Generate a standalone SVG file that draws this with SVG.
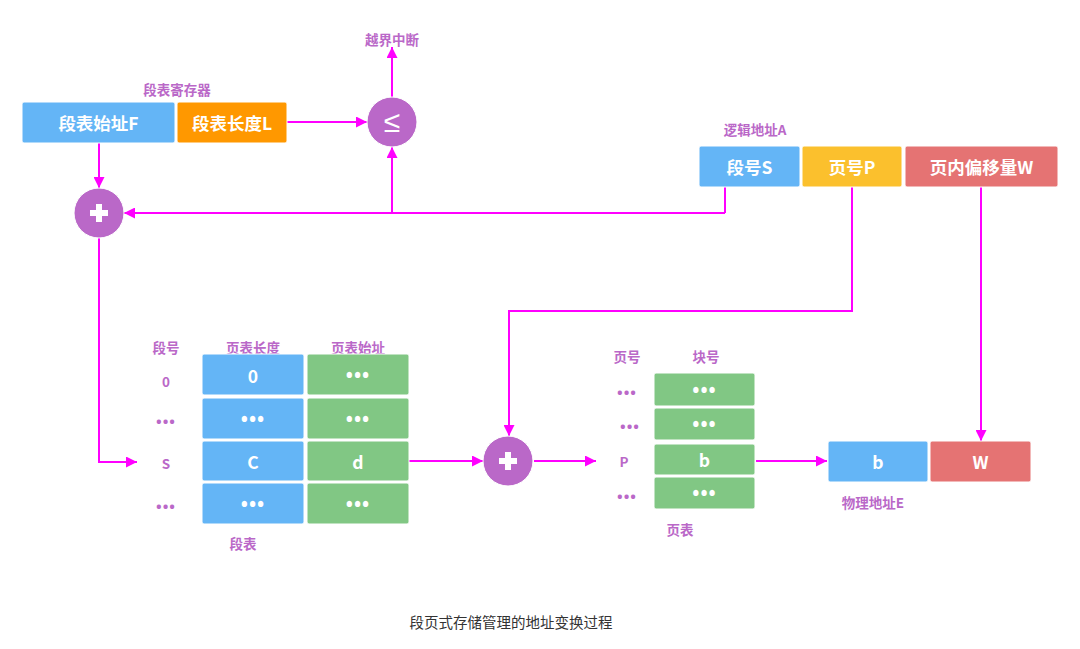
<svg xmlns="http://www.w3.org/2000/svg" width="1080" height="649" viewBox="0 0 1080 649">
<defs>
<style>
.bx{stroke:#fff;stroke-width:1;}
.blue{fill:#64B5F6}.orange{fill:#FF9800}.yellow{fill:#FBC02D}.red{fill:#E57373}.green{fill:#81C784}
.bt{font-family:"Noto Sans CJK SC","Noto Sans",sans-serif;font-weight:bold;font-size:17.5px;fill:#fff;text-anchor:middle;dominant-baseline:central}
.lb{font-family:"Noto Sans CJK SC","Noto Sans",sans-serif;font-weight:bold;font-size:13.5px;fill:#BA68C8;text-anchor:middle;dominant-baseline:central}
.ld{font-family:"Noto Sans",sans-serif;font-weight:bold;font-size:15px;letter-spacing:1px;fill:#BA68C8;text-anchor:middle;dominant-baseline:central}
.dots{font-family:"Noto Sans",sans-serif;font-weight:bold;font-size:19px;letter-spacing:1px;fill:#fff;text-anchor:middle;dominant-baseline:central}
.circ{fill:#BA68C8;stroke:#fff;stroke-width:1}
.ln{fill:none;stroke:#FF00FF;stroke-width:2;marker-end:url(#ah)}
.ln0{fill:none;stroke:#FF00FF;stroke-width:2}
</style>
<marker id="ah" viewBox="0 0 10 10" refX="10" refY="5" markerWidth="6" markerHeight="5.5" orient="auto" markerUnits="strokeWidth">
<path d="M0,0 L10,5 L0,10 z" fill="#FF00FF"/>
</marker>
<g id="plus"><rect x="-9" y="-3" width="18" height="6" fill="#fff"/><rect x="-3" y="-9" width="6" height="18" fill="#fff"/></g>
</defs>
<rect width="1080" height="649" fill="#fff"/>

<g id="connectors">
<path class="ln" d="M287,122 L367,122"/>
<path class="ln" d="M392,97 L392,47"/>
<path class="ln" d="M99,143 L99,188"/>
<path class="ln0" d="M725,187 L725,213"/>
<path class="ln" d="M725,213 L124,213"/>
<path class="ln" d="M392,213 L392,147"/>
<path class="ln" d="M99,238 L99,462 L137,462"/>
<path class="ln" d="M852,187 L852,311 L509,311 L509,436"/>
<path class="ln" d="M981,187 L981,441"/>
<path class="ln" d="M409,461 L483,461"/>
<path class="ln" d="M534,461 L596,461"/>
<path class="ln" d="M756,461 L827,461"/>
</g>

<g id="seg-register">
<text class="lb" x="177" y="89">段表寄存器</text>
<rect class="bx blue" x="22" y="102" width="153" height="41" rx="2"/>
<text class="bt" x="98.5" y="122.5">段表始址F</text>
<rect class="bx orange" x="177" y="102" width="110" height="41" rx="2"/>
<text class="bt" x="232" y="122.5">段表长度L</text>
</g>

<g id="compare">
<circle class="circ" cx="392" cy="122" r="25"/>
<text x="392" y="121" font-family="DejaVu Sans,sans-serif" font-size="30" font-weight="200" fill="#fff" text-anchor="middle" dominant-baseline="central">≤</text>
<text class="lb" x="392" y="39">越界中断</text>
</g>

<g id="add1">
<circle class="circ" cx="99" cy="213" r="25"/>
<use href="#plus" x="99" y="213"/>
</g>

<g id="logical-address">
<text class="lb" x="755" y="129">逻辑地址A</text>
<rect class="bx blue" x="699" y="146" width="101" height="41" rx="2"/>
<text class="bt" x="749.5" y="166.5">段号S</text>
<rect class="bx yellow" x="802" y="146" width="100" height="41" rx="2"/>
<text class="bt" x="852" y="166.5">页号P</text>
<rect class="bx red" x="905" y="146" width="153" height="41" rx="2"/>
<text class="bt" x="981.5" y="166.5">页内偏移量W</text>
</g>

<g id="seg-table">
<text class="lb" x="166" y="347">段号</text>
<text class="lb" x="253" y="347">页表长度</text>
<text class="lb" x="358" y="347">页表始址</text>
<text class="lb" x="166" y="381">0</text>
<text class="ld" x="166" y="421">•••</text>
<text class="lb" x="166" y="463">S</text>
<text class="ld" x="166" y="506">•••</text>
<rect class="bx blue" x="202" y="354" width="102" height="41" rx="2"/>
<rect class="bx green" x="307" y="354" width="102" height="41" rx="2"/>
<rect class="bx blue" x="202" y="398" width="102" height="41" rx="2"/>
<rect class="bx green" x="307" y="398" width="102" height="41" rx="2"/>
<rect class="bx blue" x="202" y="441" width="102" height="40" rx="2"/>
<rect class="bx green" x="307" y="441" width="102" height="40" rx="2"/>
<rect class="bx blue" x="202" y="483" width="102" height="41" rx="2"/>
<rect class="bx green" x="307" y="483" width="102" height="41" rx="2"/>
<text class="bt" x="253" y="375">0</text>
<text class="dots" x="358" y="375">•••</text>
<text class="dots" x="253" y="419">•••</text>
<text class="dots" x="358" y="419">•••</text>
<text class="bt" x="253" y="461">C</text>
<text class="bt" x="358" y="461">d</text>
<text class="dots" x="253" y="504">•••</text>
<text class="dots" x="358" y="504">•••</text>
<text class="lb" x="243" y="543">段表</text>
</g>

<g id="add2">
<circle class="circ" cx="508" cy="461" r="25"/>
<use href="#plus" x="508" y="461"/>
</g>

<g id="page-table">
<text class="lb" x="627" y="356">页号</text>
<text class="lb" x="706" y="356">块号</text>
<text class="ld" x="627" y="392">•••</text>
<text class="ld" x="630" y="426">•••</text>
<text class="lb" x="624" y="461">P</text>
<text class="ld" x="627" y="496">•••</text>
<rect class="bx green" x="654" y="373" width="101" height="33" rx="2"/>
<rect class="bx green" x="654" y="408" width="101" height="32" rx="2"/>
<rect class="bx green" x="654" y="444" width="101" height="31" rx="2"/>
<rect class="bx green" x="654" y="477" width="101" height="32" rx="2"/>
<text class="dots" x="704.5" y="390">•••</text>
<text class="dots" x="704.5" y="424">•••</text>
<text class="bt" x="704.5" y="459.5">b</text>
<text class="dots" x="704.5" y="493">•••</text>
<text class="lb" x="680" y="529">页表</text>
</g>

<g id="physical-address">
<rect class="bx blue" x="828" y="441" width="100" height="41" rx="2"/>
<text class="bt" x="878" y="461.5">b</text>
<rect class="bx red" x="930" y="441" width="101" height="41" rx="2"/>
<text class="bt" x="980.5" y="461.5">W</text>
<text class="lb" x="873" y="502">物理地址E</text>
</g>

<text x="511" y="621" font-family="Noto Sans CJK SC,sans-serif" font-size="14.5" fill="#333" text-anchor="middle" dominant-baseline="central">段页式存储管理的地址变换过程</text>
</svg>
